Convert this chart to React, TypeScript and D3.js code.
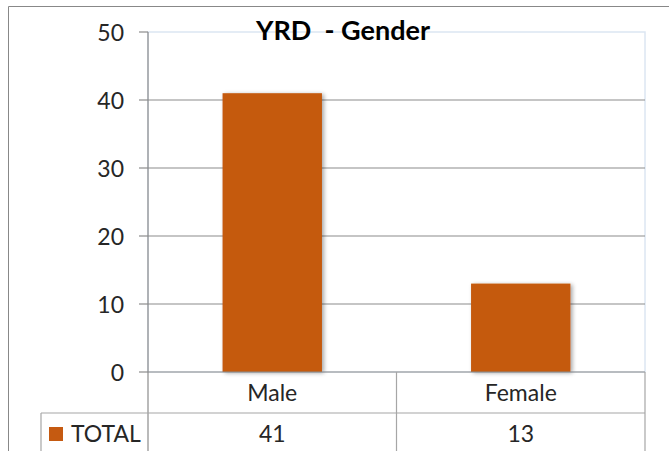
import React from 'react';
import * as d3 from 'd3';

// chart data
const categories = ['Male', 'Female'];
const totals = [41, 13];
const seriesName = 'TOTAL';
const yTicks = [0, 10, 20, 30, 40, 50];
const chartTitle = 'YRD  - Gender';

const W = 669;
const H = 451;
const font = 'Lato, "Open Sans", sans-serif';
const barColor = '#c55a11';

const App = () => {
    const plot = { left: 148, right: 645, top: 32, bottom: 372 };

    const x = d3
        .scaleBand<string>()
        .domain(categories)
        .range([plot.left, plot.right])
        .paddingInner(0.6)
        .paddingOuter(0.3);

    // band without padding, for the data table columns
    const col = d3.scaleBand<string>().domain(categories).range([plot.left, plot.right]);

    const y = d3.scaleLinear().domain([0, 50]).range([plot.bottom, plot.top]);

    const row1 = plot.bottom + 41; // line between labels row and values row
    const tableLeft = 41;

    return (
        <svg width={W} height={H} style={{ position: 'absolute', left: 0, top: 0 }}>
            <defs>
                <filter id="shadow" x="-20%" y="-20%" width="140%" height="140%">
                    <feDropShadow dx="2" dy="1" stdDeviation="2" floodColor="#000" floodOpacity="0.35" />
                </filter>
            </defs>
            <rect width={W} height={H} fill="#fff" />
            {/* outer frame */}
            <line x1={8.5} y1={6.5} x2={W} y2={6.5} stroke="#888" />
            <line x1={8.5} y1={6.5} x2={8.5} y2={H} stroke="#888" />

            {/* plot area border */}
            <rect
                x={plot.left}
                y={plot.top}
                width={plot.right - plot.left}
                height={plot.bottom - plot.top}
                fill="none"
                stroke="#dce6f2"
                strokeWidth={1.5}
            />

            {/* gridlines and y axis */}
            {yTicks.map((t) => (
                <g key={t}>
                    {t > 0 && t < 50 && (
                        <line x1={plot.left} x2={plot.right} y1={y(t)} y2={y(t)} stroke="#8c8c8c" strokeWidth={1.2} />
                    )}
                    <line x1={139} x2={plot.left} y1={y(t)} y2={y(t)} stroke="#8c8c8c" strokeWidth={1.2} />
                    <text
                        x={124}
                        y={y(t)}
                        textAnchor="end"
                        dominantBaseline="central"
                        fontFamily={font}
                        fontSize={23}
                        fill="#262626"
                    >
                        {t}
                    </text>
                </g>
            ))}

            {/* bars */}
            {categories.map((c, i) => (
                <rect
                    key={c}
                    x={x(c)}
                    y={y(totals[i])}
                    width={x.bandwidth()}
                    height={y(0) - y(totals[i])}
                    fill={barColor}
                    filter="url(#shadow)"
                />
            ))}

            {/* axis baseline and vertical axis */}
            <line x1={plot.left} x2={plot.right} y1={plot.bottom} y2={plot.bottom} stroke="#8c8c8c" strokeWidth={1.2} />
            <line x1={plot.left} x2={plot.left} y1={plot.top} y2={H} stroke="#8c8c8c" strokeWidth={1.2} />

            {/* data table */}
            <line x1={tableLeft} x2={plot.right} y1={row1} y2={row1} stroke="#a6a6a6" strokeWidth={1.2} />
            <line x1={tableLeft} x2={tableLeft} y1={row1} y2={H} stroke="#a6a6a6" strokeWidth={1.2} />
            {categories.map((c) => (
                <line
                    key={c}
                    x1={(col(c) as number) + col.bandwidth()}
                    x2={(col(c) as number) + col.bandwidth()}
                    y1={plot.bottom}
                    y2={H}
                    stroke="#a6a6a6"
                    strokeWidth={1.2}
                />
            ))}
            {categories.map((c, i) => (
                <g key={c} fontFamily={font} fontSize={23} fill="#262626" textAnchor="middle">
                    <text x={(col(c) as number) + col.bandwidth() / 2} y={plot.bottom + 29}>
                        {c}
                    </text>
                    <text x={(col(c) as number) + col.bandwidth() / 2} y={row1 + 29}>
                        {totals[i]}
                    </text>
                </g>
            ))}
            <rect x={49} y={427} width={14} height={14} fill={barColor} />
            <text x={71} y={row1 + 29} fontFamily={font} fontSize={23} fill="#262626">
                {seriesName}
            </text>

            {/* title */}
            <text
                x={343}
                y={40}
                textAnchor="middle"
                fontFamily={font}
                fontWeight="bold"
                fontSize={27}
                fill="#000"
                style={{ whiteSpace: 'pre' }}
            >
                {chartTitle}
            </text>
        </svg>
    );
};

export default App;
